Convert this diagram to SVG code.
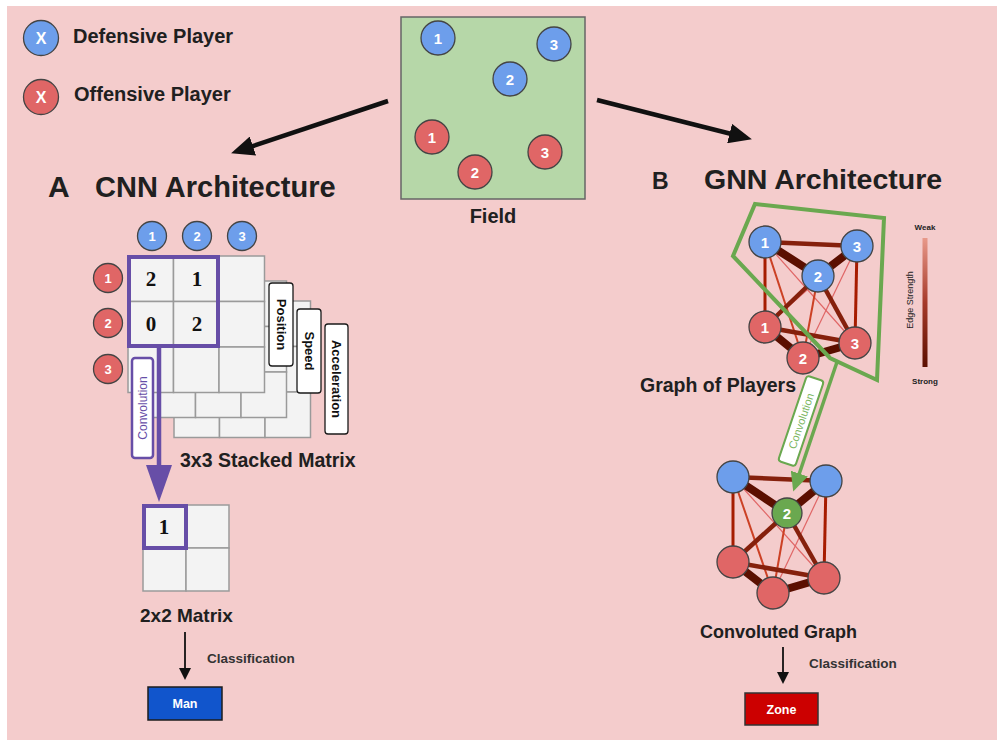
<svg xmlns="http://www.w3.org/2000/svg" width="997" height="740" viewBox="0 0 997 740">
<defs>
<style>
text{font-family:"Liberation Sans",Arial,Helvetica,sans-serif}
.lab{font-weight:bold;fill:#202020}
.d{fill:#6d9eeb;stroke:#444;stroke-width:1.3}
.o{fill:#e06666;stroke:#444;stroke-width:1.3}
.g{fill:#6aa84f;stroke:#444;stroke-width:1.3}
.n{font-weight:bold;fill:#fff;text-anchor:middle}
.cell{fill:#f3f3f3;stroke:#9a9a9a;stroke-width:1.5}
.tag{fill:#fff;stroke:#1a1a1a;stroke-width:1.3}
.tagt{font-weight:bold;font-size:13px;fill:#111;text-anchor:middle}
.val{font-family:"Liberation Serif","Times New Roman",serif;font-weight:bold;font-size:21px;fill:#111;text-anchor:middle}
.pbox{fill:none;stroke:#674ea7;stroke-width:4}
.e1{stroke:#5b0f00;stroke-width:8;stroke-linecap:round}
.e2{stroke:#85200c;stroke-width:4.5}
.e3{stroke:#a61c00;stroke-width:3}
.e4{stroke:#cc4125;stroke-width:2}
.e5{stroke:#e06666;stroke-width:1.2}
.cls{font-weight:bold;font-size:13.5px;fill:#333}
.big{stroke:#111;stroke-width:4.5;fill:none}
.thin{stroke:#111;stroke-width:1.8;fill:none}
</style>
<marker id="bigHead" markerUnits="userSpaceOnUse" markerWidth="24" markerHeight="20" refX="2" refY="10" orient="auto">
<path d="M0,0 L23,10 L0,20 z" fill="#111"/>
</marker>
<marker id="smallHead" markerUnits="userSpaceOnUse" markerWidth="12" markerHeight="12" refX="1" refY="6" orient="auto">
<path d="M0,0 L12,6 L0,12 z" fill="#111"/>
</marker>
<marker id="purpleHead" markerUnits="userSpaceOnUse" markerWidth="38" markerHeight="26" refX="1" refY="13" orient="auto">
<path d="M0,0 L37,13 L0,26 z" fill="#674ea7"/>
</marker>
<marker id="greenHead" markerUnits="userSpaceOnUse" markerWidth="20" markerHeight="18" refX="1" refY="9" orient="auto">
<path d="M0,0 L19,9 L0,18 z" fill="#6aa84f"/>
</marker>
<linearGradient id="strength" x1="0" y1="0" x2="0" y2="1">
<stop offset="0" stop-color="#e8998a"/>
<stop offset="0.5" stop-color="#a63a2a"/>
<stop offset="1" stop-color="#5b0f00"/>
</linearGradient>
<g id="grid3">
<rect class="cell" x="0" y="0" width="45.5" height="45.5"/>
<rect class="cell" x="45.5" y="0" width="45.5" height="45.5"/>
<rect class="cell" x="91" y="0" width="45.5" height="45.5"/>
<rect class="cell" x="0" y="45.5" width="45.5" height="45.5"/>
<rect class="cell" x="45.5" y="45.5" width="45.5" height="45.5"/>
<rect class="cell" x="91" y="45.5" width="45.5" height="45.5"/>
<rect class="cell" x="0" y="91" width="45.5" height="45.5"/>
<rect class="cell" x="45.5" y="91" width="45.5" height="45.5"/>
<rect class="cell" x="91" y="91" width="45.5" height="45.5"/>
</g>
</defs>

<rect x="0" y="0" width="997" height="740" fill="#ffffff"/>
<rect x="7" y="6" width="990" height="734" fill="#f4cccc"/>

<g id="legend">
<g id="legend-defensive">
<circle class="d" cx="41" cy="38" r="17.5"/>
<text class="n" x="41" y="44" font-size="16">X</text>
<text class="lab" x="73" y="43" font-size="20">Defensive Player</text>
</g>
<g id="legend-offensive">
<circle class="o" cx="41" cy="97" r="17.5"/>
<text class="n" x="41" y="103" font-size="16">X</text>
<text class="lab" x="74" y="101" font-size="20">Offensive Player</text>
</g>
</g>

<g id="field">
<rect x="401" y="17" width="184" height="182" fill="#b6d7a8" stroke="#666" stroke-width="1.5"/>
<circle class="d" cx="438" cy="38" r="17"/><text class="n" x="438" y="43.5" font-size="15">1</text>
<circle class="d" cx="554" cy="44" r="17"/><text class="n" x="554" y="49.5" font-size="15">3</text>
<circle class="d" cx="510" cy="79" r="17"/><text class="n" x="510" y="84.5" font-size="15">2</text>
<circle class="o" cx="432" cy="137" r="17"/><text class="n" x="432" y="142.5" font-size="15">1</text>
<circle class="o" cx="475" cy="172" r="17"/><text class="n" x="475" y="177.5" font-size="15">2</text>
<circle class="o" cx="545" cy="152" r="17"/><text class="n" x="545" y="157.5" font-size="15">3</text>
<text class="lab" x="493" y="223" font-size="20" text-anchor="middle">Field</text>
</g>

<g id="title-cnn">
<text class="lab" x="48" y="197" font-size="30">A</text>
<text class="lab" x="95" y="197" font-size="29">CNN Architecture</text>
</g>
<g id="title-gnn">
<text class="lab" x="652" y="189" font-size="23">B</text>
<text class="lab" x="704" y="189" font-size="28.5">GNN Architecture</text>
</g>

<g id="stacked-matrix">
<use href="#grid3" x="174" y="301"/>
<use href="#grid3" x="150" y="281"/>
<use href="#grid3" x="128" y="256"/>
<text class="val" x="151" y="286">2</text>
<text class="val" x="197" y="286">1</text>
<text class="val" x="151" y="331">0</text>
<text class="val" x="197" y="331">2</text>
<rect class="pbox" x="129" y="257" width="89" height="89"/>
<g id="col-headers">
<circle class="d" cx="152" cy="236" r="14.5"/><text class="n" x="152" y="241" font-size="13">1</text>
<circle class="d" cx="197" cy="236" r="14.5"/><text class="n" x="197" y="241" font-size="13">2</text>
<circle class="d" cx="242" cy="236" r="14.5"/><text class="n" x="242" y="241" font-size="13">3</text>
</g>
<g id="row-headers">
<circle class="o" cx="108" cy="278" r="14.5"/><text class="n" x="108" y="283" font-size="13">1</text>
<circle class="o" cx="108" cy="323" r="14.5"/><text class="n" x="108" y="328" font-size="13">2</text>
<circle class="o" cx="108" cy="369" r="14.5"/><text class="n" x="108" y="374" font-size="13">3</text>
</g>
<g id="tag-position">
<rect class="tag" x="269" y="283" width="24" height="83" rx="3"/>
<text class="tagt" transform="translate(281,324.5) rotate(90)" y="4.5">Position</text>
</g>
<g id="tag-speed">
<rect class="tag" x="297" y="309" width="24" height="84" rx="3"/>
<text class="tagt" transform="translate(309,351) rotate(90)" y="4.5">Speed</text>
</g>
<g id="tag-acceleration">
<rect class="tag" x="325" y="324" width="23" height="110" rx="3"/>
<text class="tagt" transform="translate(336.5,379) rotate(90)" y="4.5">Acceleration</text>
</g>
<text class="lab" x="180" y="467" font-size="19.5">3x3 Stacked Matrix</text>
</g>

<g id="matrix-2x2">
<rect class="cell" x="143" y="505" width="43" height="43"/>
<rect class="cell" x="186" y="505" width="43" height="43"/>
<rect class="cell" x="143" y="548" width="43" height="43"/>
<rect class="cell" x="186" y="548" width="43" height="43"/>
<text class="val" x="164" y="534">1</text>
<rect class="pbox" x="144" y="506" width="42" height="42"/>
<text class="lab" x="140" y="622" font-size="19">2x2 Matrix</text>
</g>

<g id="result-man">
<rect x="148" y="687" width="74" height="33" fill="#1155cc" stroke="#1c1c1c" stroke-width="1.5"/>
<text class="n" x="185" y="708" font-size="12.5">Man</text>
</g>

<g id="gnn-top-edges">
<line class="e5" x1="765" y1="242" x2="855" y2="343"/>
<line class="e5" x1="857" y1="246" x2="803" y2="358"/>
<line class="e5" x1="857" y1="246" x2="765" y2="327"/>
<line class="e4" x1="818" y1="276" x2="803" y2="358"/>
<line class="e4" x1="765" y1="242" x2="803" y2="358"/>
<line class="e3" x1="765" y1="242" x2="765" y2="327"/>
<line class="e3" x1="857" y1="246" x2="855" y2="343"/>
<line class="e2" x1="765" y1="242" x2="857" y2="246"/>
<line class="e2" x1="818" y1="276" x2="855" y2="343"/>
<line class="e2" x1="765" y1="327" x2="855" y2="343"/>
<line class="e2" x1="818" y1="276" x2="765" y2="327"/>
<line class="e1" x1="765" y1="242" x2="818" y2="276"/>
<line class="e1" x1="818" y1="276" x2="857" y2="246"/>
<line class="e1" x1="765" y1="327" x2="803" y2="358"/>
<line class="e1" x1="803" y1="358" x2="855" y2="343"/>
</g>
<g id="gnn-top-nodes">
<g id="top-d1"><circle class="d" cx="765" cy="242" r="16"/><text class="n" x="765" y="247.5" font-size="15">1</text></g>
<g id="top-d3"><circle class="d" cx="857" cy="246" r="16"/><text class="n" x="857" y="251.5" font-size="15">3</text></g>
<g id="top-d2"><circle class="d" cx="818" cy="276" r="16"/><text class="n" x="818" y="281.5" font-size="15">2</text></g>
<g id="top-o1"><circle class="o" cx="765" cy="327" r="16"/><text class="n" x="765" y="332.5" font-size="15">1</text></g>
<g id="top-o2"><circle class="o" cx="803" cy="358" r="16"/><text class="n" x="803" y="363.5" font-size="15">2</text></g>
<g id="top-o3"><circle class="o" cx="855" cy="343" r="16"/><text class="n" x="855" y="348.5" font-size="15">3</text></g>
</g>
<g id="neighbourhood">
<polygon points="755,204 884,218 877,380 830,358 733,256" fill="none" stroke="#6aa84f" stroke-width="4" stroke-linejoin="miter"/>
</g>
<text class="lab" x="640" y="392" font-size="19.5">Graph of Players</text>

<g id="edge-strength">
<text x="925" y="230" font-size="8" font-weight="bold" fill="#222" text-anchor="middle">Weak</text>
<rect x="922.5" y="238" width="5" height="129" fill="url(#strength)"/>
<text x="925" y="384" font-size="8" font-weight="bold" fill="#222" text-anchor="middle">Strong</text>
<text transform="translate(910,300) rotate(-90)" font-size="9" fill="#222" text-anchor="middle" y="3">Edge Strength</text>
</g>

<g id="gnn-bottom-edges">
<line class="e5" x1="733" y1="477" x2="824" y2="578"/>
<line class="e5" x1="826" y1="481" x2="773" y2="593"/>
<line class="e5" x1="826" y1="481" x2="733" y2="562"/>
<line class="e4" x1="787" y1="513" x2="773" y2="593"/>
<line class="e4" x1="733" y1="477" x2="773" y2="593"/>
<line class="e3" x1="733" y1="477" x2="733" y2="562"/>
<line class="e3" x1="826" y1="481" x2="824" y2="578"/>
<line class="e2" x1="733" y1="477" x2="826" y2="481"/>
<line class="e2" x1="787" y1="513" x2="824" y2="578"/>
<line class="e2" x1="733" y1="562" x2="824" y2="578"/>
<line class="e2" x1="787" y1="513" x2="733" y2="562"/>
<line class="e1" x1="733" y1="477" x2="787" y2="513"/>
<line class="e1" x1="787" y1="513" x2="826" y2="481"/>
<line class="e1" x1="733" y1="562" x2="773" y2="593"/>
<line class="e1" x1="773" y1="593" x2="824" y2="578"/>
</g>
<g id="gnn-bottom-nodes">
<g id="bot-d1"><circle class="d" cx="733" cy="477" r="16"/></g>
<g id="bot-d3"><circle class="d" cx="826" cy="481" r="16"/></g>
<g id="bot-g2"><circle class="g" cx="787" cy="513" r="15"/><text class="n" x="787" y="518.5" font-size="15">2</text></g>
<g id="bot-o1"><circle class="o" cx="733" cy="562" r="16"/></g>
<g id="bot-o2"><circle class="o" cx="773" cy="593" r="16"/></g>
<g id="bot-o3"><circle class="o" cx="824" cy="578" r="16"/></g>
</g>
<text class="lab" x="700" y="638" font-size="18">Convoluted Graph</text>

<g id="result-zone">
<rect x="745" y="693" width="73" height="32" fill="#cc0000" stroke="#333" stroke-width="1.5"/>
<text class="n" x="781.5" y="713.5" font-size="12.5">Zone</text>
</g>

<g id="connectors">
<line class="big" x1="388" y1="101" x2="251" y2="146.7" marker-end="url(#bigHead)"/>
<line class="big" x1="597" y1="100" x2="731.5" y2="134" marker-end="url(#bigHead)"/>
<line stroke="#674ea7" stroke-width="4.5" x1="159" y1="346" x2="159" y2="466" marker-end="url(#purpleHead)"/>
<g id="conv-tag-cnn">
<rect x="132" y="358" width="21" height="100" rx="3" fill="#fff" stroke="#674ea7" stroke-width="2.5"/>
<text transform="translate(142.5,408) rotate(-90)" y="4" font-size="12" fill="#674ea7" text-anchor="middle">Convolution</text>
</g>
<line stroke="#6aa84f" stroke-width="3.5" x1="837" y1="362" x2="799" y2="474.5" marker-end="url(#greenHead)"/>
<g id="conv-tag-gnn" transform="translate(801,421) rotate(-71.3)">
<rect x="-45" y="-9" width="90" height="18" rx="3" fill="#fff" stroke="#6aa84f" stroke-width="2"/>
<text y="4" font-size="11" fill="#7cb65f" text-anchor="middle">Convolution</text>
</g>
<line class="thin" x1="185" y1="632" x2="185" y2="669" marker-end="url(#smallHead)"/>
<text class="cls" x="207" y="663">Classification</text>
<line class="thin" x1="783" y1="647" x2="783" y2="673" marker-end="url(#smallHead)"/>
<text class="cls" x="809" y="668">Classification</text>
</g>
</svg>
